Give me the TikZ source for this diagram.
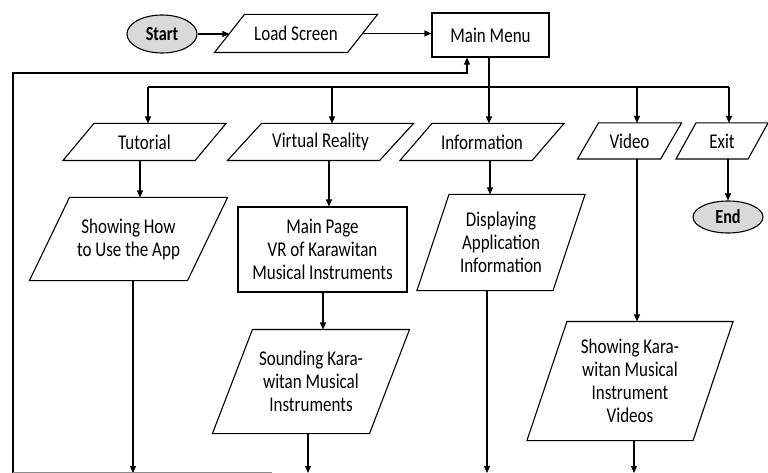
\documentclass[tikz,border=0pt]{standalone}
\usepackage{fontspec}
\setmainfont{Carlito}[FakeStretch=0.81]
\usetikzlibrary{arrows.meta,shapes.geometric}
\newcommand\pgram[2]{\draw[outl] ([xshift=#2]#1.north west) -- ([xshift=#2]#1.north east) -- ([xshift=-#2]#1.south east) -- ([xshift=-#2]#1.south west) -- cycle;}
\begin{document}
\begin{tikzpicture}[x=1pt,y=-1pt,line width=1.1pt,
  txt/.style={font=\fontsize{21}{23}\selectfont, align=center, inner sep=0pt},
  outl/.style={draw=black, line width=1.1pt},
  term/.style={ellipse, draw, fill=black!15, inner sep=0pt, font=\fontsize{20}{22}\selectfont\bfseries},
  arr/.style={-{Triangle[length=7pt,width=6pt]}},
  faint/.style={draw=black!45, line width=1pt}]
\useasboundingbox (0,0) rectangle (768,473);
% terminals
\node[term, minimum width=70, minimum height=38] (start) at (162,34) {Start};
\node[term, minimum width=70, minimum height=32] (end) at (728,217) {End};
% boxes
\node[txt, minimum width=132, minimum height=37] (load) at (296,33.5) {Load Screen};
\pgram{load}{15}
\node[txt, draw, minimum width=117, minimum height=44] (menu) at (490.5,35) {Main Menu};
\node[txt, minimum width=131, minimum height=36] (tut) at (144.5,142) {Tutorial};
\pgram{tut}{15.5}
\node[txt, minimum width=151, minimum height=36] (vr) at (320.5,142) {Virtual Reality};
\pgram{vr}{17}
\node[txt, minimum width=131, minimum height=36] (info) at (482,142) {Information};
\pgram{info}{16}
\node[txt, minimum width=82, minimum height=35] (video) at (629.5,141) {Video};
\pgram{video}{10.5}
\node[txt, minimum width=71, minimum height=35] (exit) at (722,141) {Exit};
\pgram{exit}{10}
\node[txt, minimum width=157, minimum height=82] (show) at (128.5,239) {Showing How\\to Use the App};
\pgram{show}{20}
\node[txt, draw, minimum width=169, minimum height=85] (mainpage) at (322.5,249.5) {Main Page\\VR of Karawitan\\Musical Instruments};
\node[txt, minimum width=135, minimum height=95] (disp) at (501,242.5) {Displaying\\Application\\Information};
\pgram{disp}{16}
\node[txt, minimum width=156, minimum height=103] (sound) at (311,381.5) {Sounding Kara-\\witan Musical\\Instruments};
\pgram{sound}{20}
\node[txt, minimum width=165, minimum height=118] (kara) at (630,381) {Showing Kara-\\witan Musical\\Instrument\\Videos};
\pgram{kara}{20}
% coordinates
\coordinate (b1) at (148,87);
\coordinate (b2) at (332,87);
\coordinate (b3) at (489,87);
\coordinate (b4) at (637,87);
\coordinate (b5) at (729,87);
\coordinate (k1) at (140,0);
\coordinate (k3) at (329,0);
\coordinate (k4) at (323,0);
\coordinate (k5) at (490,0);
\coordinate (k6) at (728,0);
\coordinate (e1) at (133,473);
\coordinate (e2) at (308,473);
\coordinate (e3) at (487,473);
\coordinate (e4) at (634,473);
\coordinate (f0) at (13,473);
\coordinate (f1) at (13,73);
\coordinate (f2) at (467,73);
\coordinate (g1) at (13,472);
\coordinate (g2) at (272,472);
% connectors
\draw[arr] (start.east) -- (start.east -| load.west);
\draw[arr] (load.east) -- (load.east -| menu.west);
\draw (b1) -- (b5);
\draw[arr] (menu.south -| b3) -- (info.north -| b3);
\draw[arr] (b1) -- (tut.north -| b1);
\draw[arr] (b2) -- (vr.north -| b2);
\draw[arr] (b4) -- (video.north -| b4);
\draw[arr] (b5) -- (exit.north -| b5);
\draw[arr] (tut.south -| k1) -- (show.north -| k1);
\draw[arr] (show.south -| e1) -- (e1);
\draw[arr] (vr.south -| k3) -- (mainpage.north -| k3);
\draw[arr] (mainpage.south -| k4) -- (sound.north -| k4);
\draw[arr] (sound.south -| e2) -- (e2);
\draw[arr] (info.south -| k5) -- (disp.north -| k5);
\draw[arr] (disp.south -| e3) -- (e3);
\draw[arr] (video.south -| b4) -- (kara.north -| b4);
\draw[arr] (kara.south -| e4) -- (e4);
\draw[arr] (exit.south -| k6) -- (end.north -| k6);
\draw[arr] (f0) -- (f1) -- (f2) -- (menu.south -| f2);
\draw[faint] (g1) -- (g2);
\end{tikzpicture}
\end{document}
